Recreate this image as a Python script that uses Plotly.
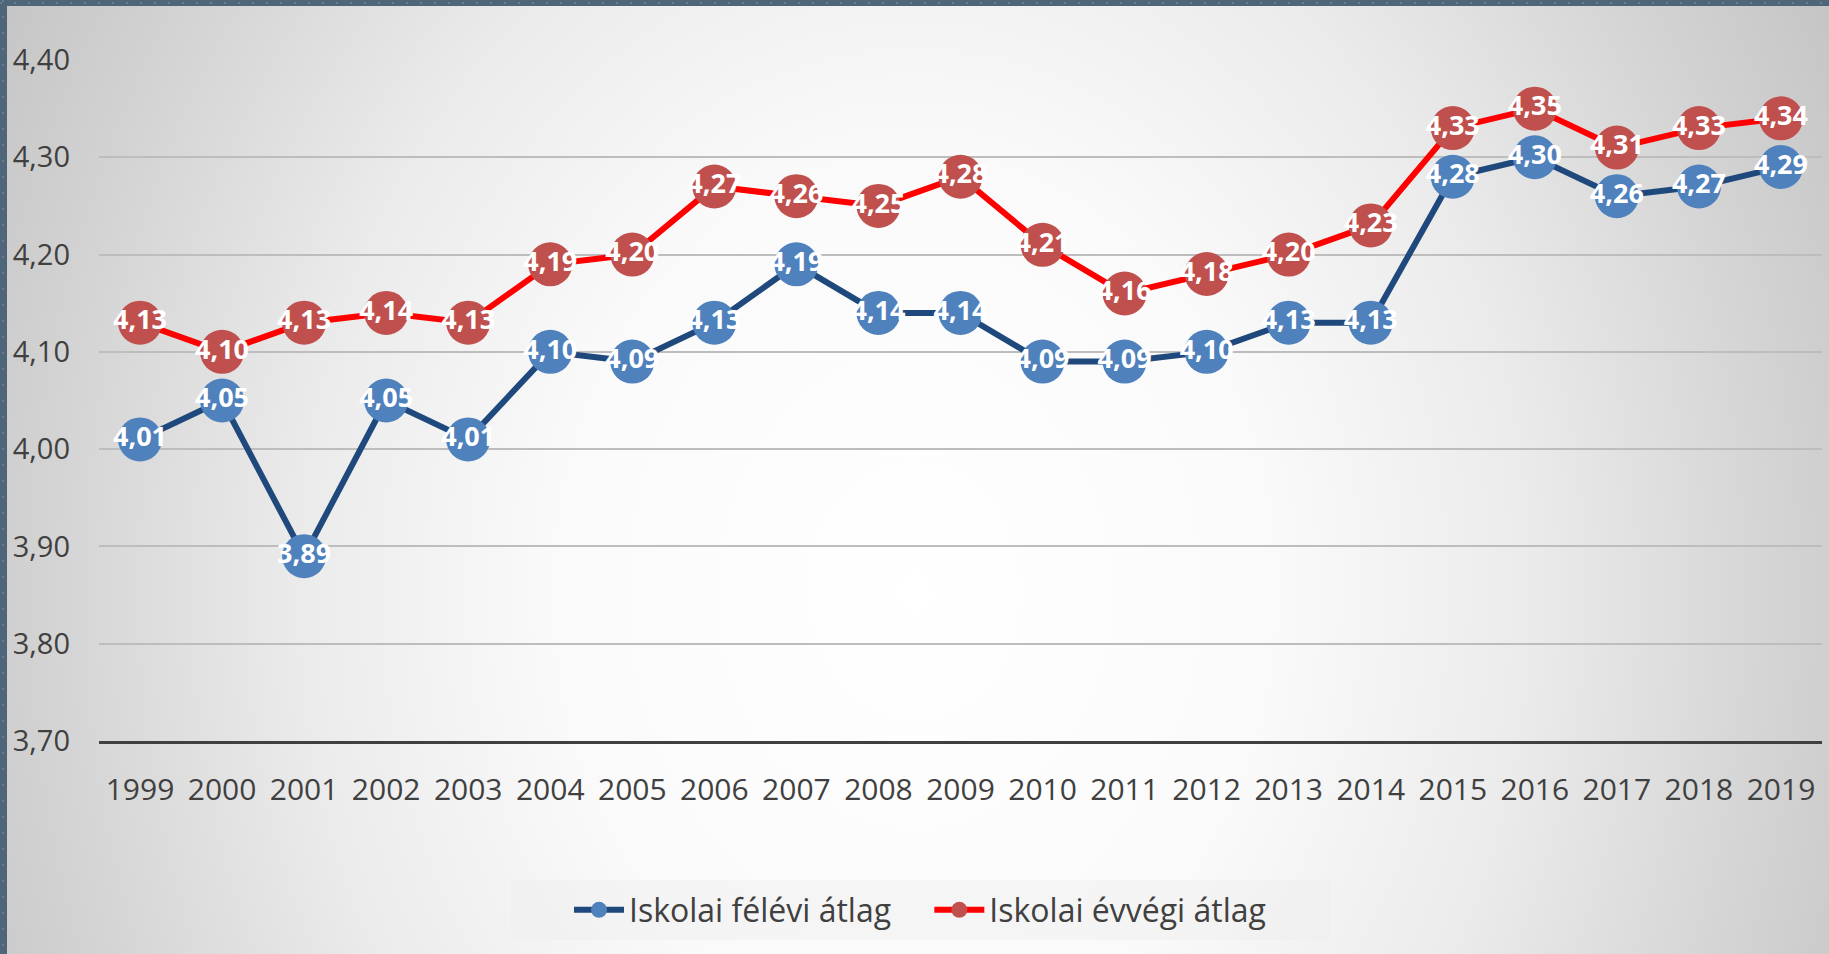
import base64
import plotly.graph_objects as go

# data
years = [str(y) for y in range(1999, 2020)]
felevi = [4.01, 4.05, 3.89, 4.05, 4.01, 4.10, 4.09, 4.13, 4.19, 4.14, 4.14,
          4.09, 4.09, 4.10, 4.13, 4.13, 4.28, 4.30, 4.26, 4.27, 4.29]
evvegi = [4.13, 4.10, 4.13, 4.14, 4.13, 4.19, 4.20, 4.27, 4.26, 4.25, 4.28,
          4.21, 4.16, 4.18, 4.20, 4.23, 4.33, 4.35, 4.31, 4.33, 4.34]
y_ticks = [3.70, 3.80, 3.90, 4.00, 4.10, 4.20, 4.30, 4.40]
y_ticktext = [f'{v:.2f}'.replace('.', ',') for v in y_ticks]

W, H = 1829, 954
L, R, T, B = 99, 7, 60, 213
pw, ph = W - L - R, H - T - B

FONT = 'Open Sans, Calibri, sans-serif'

# background: radial grey gradient + slate frame on top/left + legend panel
svg = f'''<svg xmlns="http://www.w3.org/2000/svg" width="{W}" height="{H}" viewBox="0 0 {W} {H}" preserveAspectRatio="none">
<defs>
<radialGradient id="g" cx="0" cy="0" r="1" gradientTransform="translate(0.5,0.62) scale(0.56,1.3)">
<stop offset="0" stop-color="#ffffff"/>
<stop offset="0.35" stop-color="#fafafa"/>
<stop offset="0.6" stop-color="#ebebeb"/>
<stop offset="0.85" stop-color="#d3d3d3"/>
<stop offset="1" stop-color="#c6c6c6"/>
</radialGradient>
</defs>
<rect x="0" y="0" width="{W}" height="{H}" fill="url(#g)"/>
<rect x="511" y="880" width="819" height="60" fill="#eeeeee" fill-opacity="0.45"/>
<rect x="0" y="0" width="{W}" height="6" fill="#4f6579"/>
<rect x="0" y="0" width="7" height="{H}" fill="#4f6579"/>
<line x1="0" y1="3" x2="{W}" y2="3" stroke="#8395a5" stroke-width="1" stroke-dasharray="2,12"/>
<line x1="3" y1="0" x2="3" y2="{H}" stroke="#8395a5" stroke-width="1" stroke-dasharray="2,14"/>
</svg>'''
bg_src = 'data:image/svg+xml;base64,' + base64.b64encode(svg.encode()).decode()


def labels(vals):
    return [f'{v:.2f}'.replace('.', ',') for v in vals]


fig = go.Figure()

fig.add_trace(go.Scatter(
    x=years, y=felevi, name='Iskolai félévi átlag' + '\u00a0' * 4,
    mode='lines+markers+text',
    line=dict(color='#1f497d', width=6),
    marker=dict(size=44, color='#4f81bd'),
    text=labels(felevi), textposition='middle center',
    textfont=dict(family=FONT, size=27, color='white', weight='bold'),
    cliponaxis=False,
))

fig.add_trace(go.Scatter(
    x=years, y=evvegi, name='Iskolai évvégi átlag',
    mode='lines+markers+text',
    line=dict(color='#ff0000', width=6),
    marker=dict(size=44, color='#c0504d'),
    text=labels(evvegi), textposition='middle center',
    textfont=dict(family=FONT, size=27, color='white', weight='bold'),
    cliponaxis=False,
))

fig.update_layout(
    width=W, height=H,
    margin=dict(l=L, r=R, t=T, b=B, pad=0),
    paper_bgcolor='#d0d0d0',
    plot_bgcolor='rgba(0,0,0,0)',
    font=dict(family=FONT, color='#404040'),
    showlegend=True,
    legend=dict(
        orientation='h',
        x=(920 - L) / pw, xanchor='center',
        y=-(910 - (T + ph)) / ph, yanchor='middle',
        font=dict(size=32, color='#404040'),
        bgcolor='rgba(0,0,0,0)',
        itemwidth=50,
    ),
    images=[dict(
        source=bg_src, xref='paper', yref='paper',
        x=-L / pw, y=1 + T / ph, sizex=W / pw, sizey=H / ph,
        xanchor='left', yanchor='top', sizing='stretch', layer='below',
    )],
    xaxis=dict(
        type='category',
        range=[-0.5, len(years) - 0.5],
        showgrid=False, zeroline=False,
        showline=True, linecolor='#404040', linewidth=3,
        ticks='', ticklabelstandoff=20,
        tickfont=dict(size=30, color='#404040'),
        fixedrange=True,
    ),
    yaxis=dict(
        range=[3.70, 4.40],
        tickmode='array', tickvals=y_ticks, ticktext=y_ticktext,
        showgrid=True, gridcolor='#bdbdbd', gridwidth=1.5,
        zeroline=False, showline=False,
        ticks='', ticklabelstandoff=28,
        tickfont=dict(size=29, color='#404040'),
        fixedrange=True,
    ),
)

fig.write_html('out.html', config={'displayModeBar': False},
               post_script="document.body.style.margin='0';")
